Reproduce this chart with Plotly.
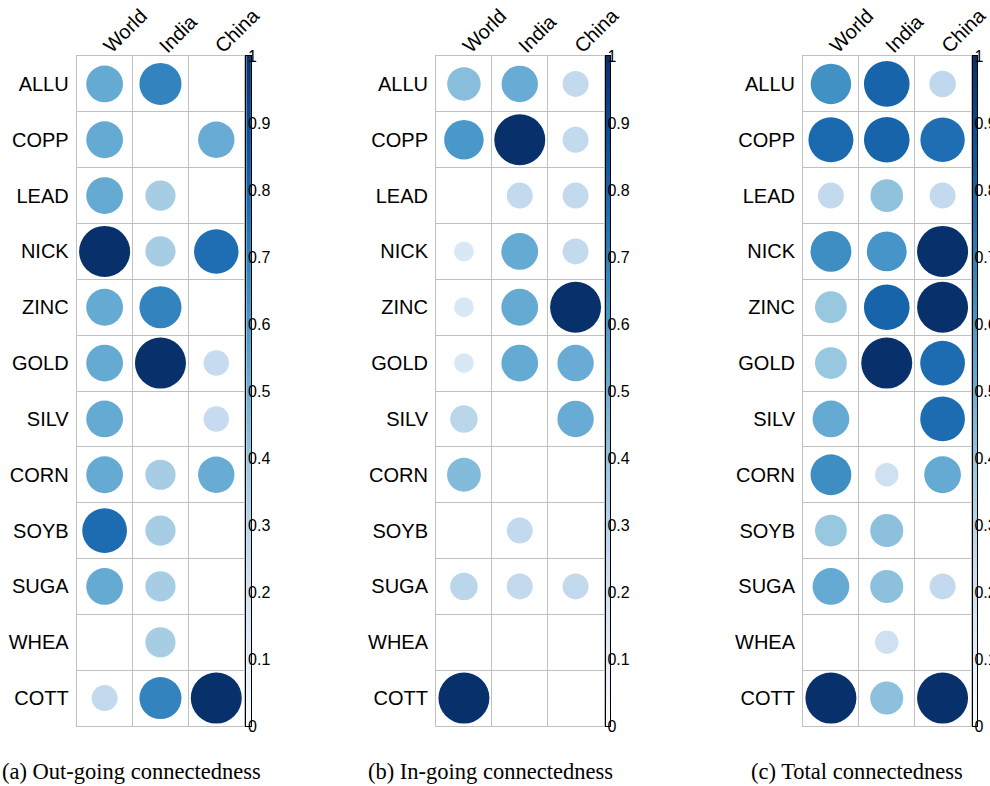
import numpy as np
import plotly.graph_objects as go

# ---------------------------------------------------------------- data
commodities = ["ALLU", "COPP", "LEAD", "NICK", "ZINC", "GOLD",
               "SILV", "CORN", "SOYB", "SUGA", "WHEA", "COTT"]
markets = ["World", "India", "China"]

# one row per commodity, one column per market (World, India, China)
out_going = [
    [0.52, 0.68, 0.00],
    [0.52, 0.00, 0.51],
    [0.52, 0.35, 0.00],
    [1.00, 0.35, 0.76],
    [0.52, 0.68, 0.00],
    [0.52, 1.00, 0.25],
    [0.52, 0.00, 0.25],
    [0.52, 0.35, 0.51],
    [0.77, 0.35, 0.00],
    [0.52, 0.35, 0.00],
    [0.00, 0.35, 0.00],
    [0.26, 0.68, 1.00],
]
in_going = [
    [0.43, 0.51, 0.26],
    [0.60, 1.00, 0.26],
    [0.00, 0.26, 0.26],
    [0.15, 0.52, 0.26],
    [0.15, 0.52, 1.00],
    [0.15, 0.52, 0.51],
    [0.29, 0.00, 0.51],
    [0.44, 0.00, 0.00],
    [0.00, 0.26, 0.00],
    [0.29, 0.26, 0.26],
    [0.00, 0.00, 0.00],
    [1.00, 0.00, 0.00],
]
total = [
    [0.63, 0.80, 0.27],
    [0.78, 0.80, 0.76],
    [0.26, 0.41, 0.26],
    [0.64, 0.61, 1.00],
    [0.39, 0.80, 1.00],
    [0.39, 1.00, 0.77],
    [0.52, 0.00, 0.77],
    [0.64, 0.21, 0.52],
    [0.39, 0.42, 0.00],
    [0.52, 0.42, 0.26],
    [0.00, 0.21, 0.00],
    [1.00, 0.42, 1.00],
]
captions = ["(a) Out-going connectedness",
            "(b) In-going connectedness",
            "(c) Total connectedness"]
scale_ticks = [0, 0.1, 0.2, 0.3, 0.4, 0.5, 0.6, 0.7, 0.8, 0.9, 1]
scale_labels = ["0", "0.1", "0.2", "0.3", "0.4", "0.5",
                "0.6", "0.7", "0.8", "0.9", "1"]

# ---------------------------------------------------------------- style
W, H = 990, 786
BLUES = ["#F7FBFF", "#DEEBF7", "#C6DBEF", "#9ECAE1", "#6BAED6",
         "#4292C6", "#2171B5", "#08519C", "#08306B"]
colorscale = [[i / (len(BLUES) - 1), c] for i, c in enumerate(BLUES)]
SANS = "Liberation Sans, Arial, sans-serif"
SERIF = "Liberation Serif, Times New Roman, serif"
GRID = "#c0c0c0"
CELL = 670 / 12
GRID_TOP, GRID_BOTTOM = 56, 726
grid_left = [76.7, 436.0, 803.0]
caption_x = [131, 490, 857]
MAX_D = 51  # circle diameter (px) for a value of 1


def fx(px):
    return px / W


def fy(py):
    return 1 - py / H


fig = go.Figure()
layout = dict(
    width=W, height=H,
    margin=dict(l=0, r=0, t=0, b=0, pad=0, autoexpand=False),
    paper_bgcolor="white", plot_bgcolor="white",
    showlegend=False,
    font=dict(family=SANS, color="black"),
    annotations=[],
)

panels = [out_going, in_going, total]
level = np.linspace(0, 1, 201)

for i, mat in enumerate(panels):
    k1, k2 = 2 * i + 1, 2 * i + 2
    xa1 = "xaxis" if k1 == 1 else f"xaxis{k1}"
    ya1 = "yaxis" if k1 == 1 else f"yaxis{k1}"
    xa2, ya2 = f"xaxis{k2}", f"yaxis{k2}"
    x_ref1 = "x" if k1 == 1 else f"x{k1}"
    y_ref1 = "y" if k1 == 1 else f"y{k1}"

    left = grid_left[i]
    right = left + 3 * CELL
    bar_l, bar_r = right + 2, right + 6.7

    vals = np.array(mat, dtype=float)
    rows, cols = np.indices(vals.shape)

    # circles: area and colour both encode the value
    fig.add_trace(go.Scatter(
        x=cols.ravel(), y=rows.ravel(), mode="markers",
        xaxis=x_ref1, yaxis=y_ref1, hoverinfo="skip",
        marker=dict(
            size=vals.ravel(), sizemode="area", sizeref=2 / MAX_D ** 2,
            color=vals.ravel(), cmin=0, cmax=1, colorscale=colorscale,
            opacity=1, line=dict(width=0),
        ),
    ))

    # colour legend bar
    fig.add_trace(go.Heatmap(
        x=[0.5], y=level, z=[[v] for v in level],
        xaxis=f"x{k2}", yaxis=f"y{k2}",
        zmin=0, zmax=1, colorscale=colorscale, showscale=False,
        hoverinfo="skip",
    ))

    grid_axis = dict(
        showgrid=False, zeroline=False, automargin=False,
        showline=True, mirror=True, linecolor=GRID, linewidth=1,
        minor=dict(showgrid=True, gridcolor=GRID, gridwidth=1,
                   tickmode="linear", tick0=-0.5, dtick=1, ticks=""),
        ticks="", fixedrange=True, ticklabeloverflow="allow",
        tickfont=dict(family=SANS, size=20, color="black"),
    )
    layout[xa1] = dict(
        grid_axis, domain=[fx(left), fx(right)], range=[-0.5, 2.5],
        anchor=y_ref1, side="top", tickmode="array",
        tickvals=[0, 1, 2], ticktext=markets, tickangle=-45,
        ticklabelstandoff=-10,
    )
    layout[ya1] = dict(
        grid_axis, domain=[fy(GRID_BOTTOM), fy(GRID_TOP)],
        range=[11.5, -0.5], anchor=x_ref1, tickmode="array",
        tickvals=list(range(len(commodities))), ticktext=commodities,
        ticklabelstandoff=3,
    )
    layout[xa2] = dict(
        domain=[fx(bar_l), fx(bar_r)], range=[0, 1], anchor=f"y{k2}",
        showgrid=False, zeroline=False, showticklabels=False, ticks="",
        showline=True, mirror=True, linecolor="black", linewidth=1,
        fixedrange=True, automargin=False,
    )
    layout[ya2] = dict(
        domain=[fy(GRID_BOTTOM), fy(GRID_TOP)], range=[0, 1],
        anchor=f"x{k2}", side="right",
        showgrid=False, zeroline=False, automargin=False,
        showline=True, mirror=True, linecolor="black", linewidth=1,
        tickmode="array", tickvals=scale_ticks, ticktext=scale_labels,
        ticks="", ticklabelstandoff=-7, ticklabeloverflow="allow",
        tickfont=dict(family=SANS, size=16, color="black"),
        fixedrange=True,
    )

    layout["annotations"].append(dict(
        text=captions[i], xref="paper", yref="paper",
        x=fx(caption_x[i]), y=fy(771), xanchor="center", yanchor="middle",
        showarrow=False, font=dict(family=SERIF, size=22.5, color="black"),
    ))

fig.update_layout(**layout)
fig.write_html("out.html")
